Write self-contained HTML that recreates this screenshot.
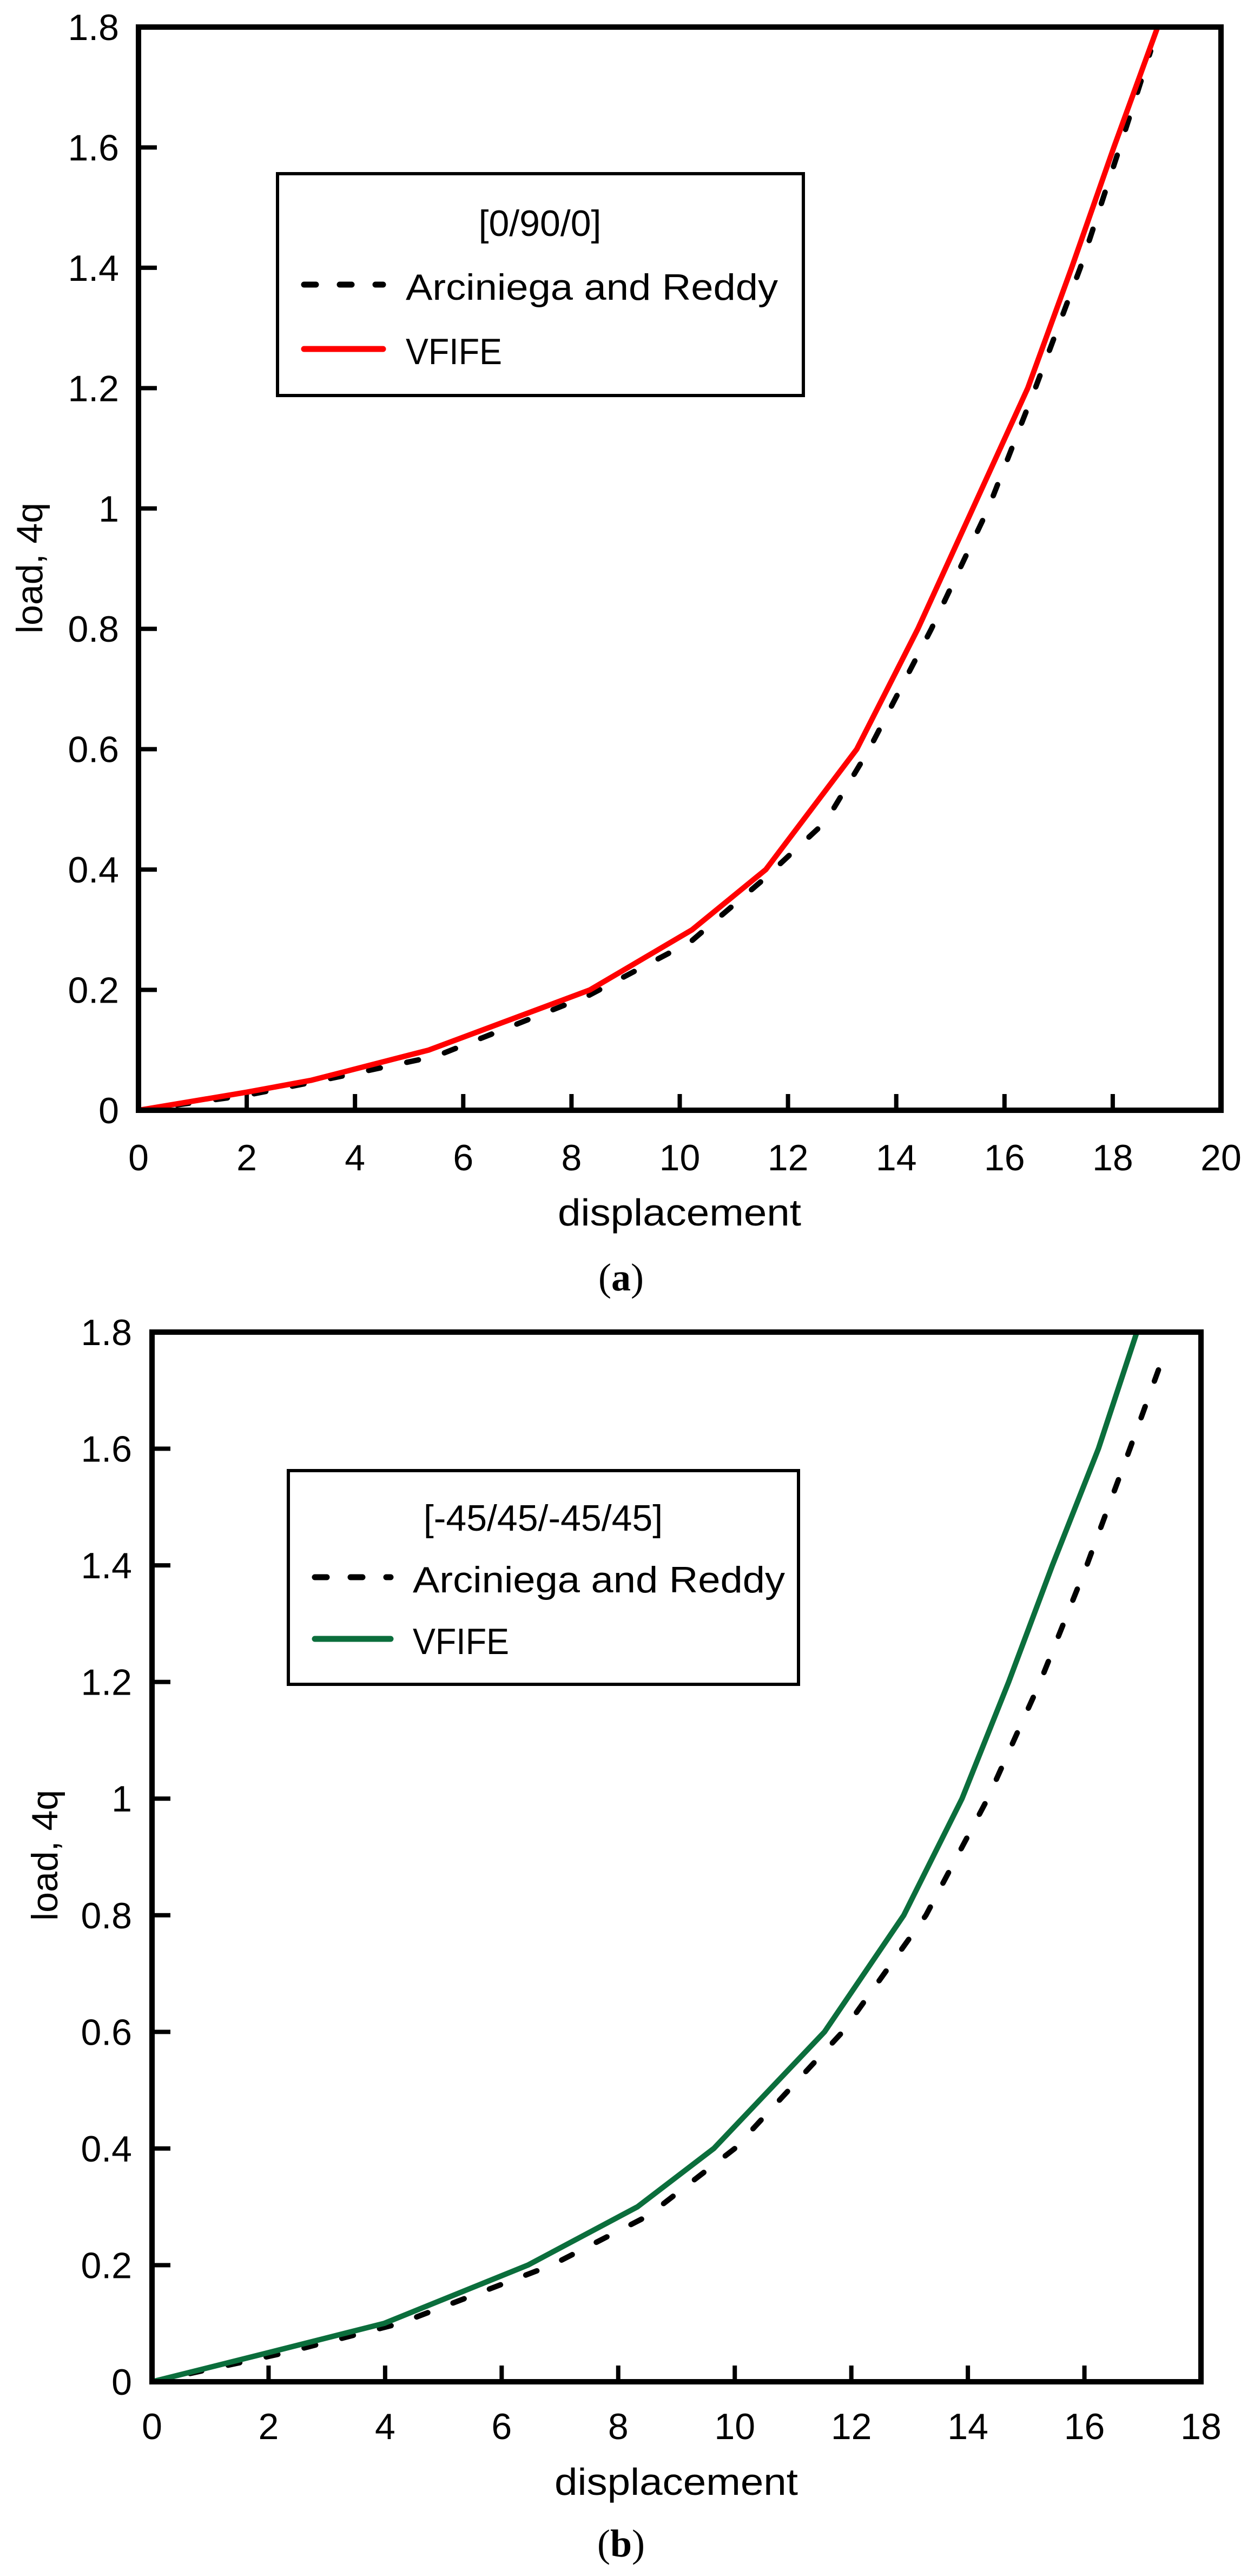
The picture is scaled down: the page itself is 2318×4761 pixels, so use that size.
<!DOCTYPE html>
<html><head><meta charset="utf-8">
<style>
html,body{margin:0;padding:0;background:#fff;}
svg{display:block;}
text{font-family:"Liberation Sans",sans-serif;fill:#000;}
</style></head>
<body>
<svg id="fig" width="2318" height="4761" viewBox="0 0 2318 4761" xmlns="http://www.w3.org/2000/svg"></svg>
<script>
// ---- Panel (a) data ----
const aArcX = [0, 2, 3.4, 5.5, 8.3, 10.2, 11.5, 12.7, 13.5, 14.65, 15.7, 16.57, 17.4, 18.13, 18.7];
const aArcY = [0, 0.025, 0.05, 0.09, 0.19, 0.28, 0.38, 0.48, 0.6, 0.8, 1.0, 1.2, 1.4, 1.6, 1.76];
const aVfX = [0, 2, 3.2, 5.36, 8.34, 10.23, 11.59, 13.27, 14.4, 16.43, 17.24, 18.02, 18.83];
const aVfY = [0, 0.03, 0.05, 0.1, 0.2, 0.3, 0.4, 0.6, 0.8, 1.2, 1.4, 1.6, 1.8];
const aXTicks = [0, 2, 4, 6, 8, 10, 12, 14, 16, 18, 20];
const yTicks = [0, 0.2, 0.4, 0.6, 0.8, 1, 1.2, 1.4, 1.6, 1.8];
// ---- Panel (b) data ----
const bArcX = [0, 2.3, 4.25, 6.86, 8.5, 10.0, 11.85, 13.28, 14.34, 15.24, 16.04, 16.78, 17.36];
const bArcY = [0, 0.05, 0.1, 0.2, 0.284, 0.4, 0.6, 0.8, 1.0, 1.2, 1.4, 1.6, 1.76];
const bVfX = [0, 2, 3.98, 6.45, 8.33, 9.64, 11.54, 12.9, 13.9, 14.7, 15.45, 16.24, 16.9];
const bVfY = [0, 0.05, 0.1, 0.2, 0.3, 0.4, 0.6, 0.8, 1.0, 1.2, 1.4, 1.6, 1.8];
const bXTicks = [0, 2, 4, 6, 8, 10, 12, 14, 16, 18];

const NS = "http://www.w3.org/2000/svg";
const svg = document.getElementById('fig');
function mk(tag, attrs, parent){
  const e = document.createElementNS(NS, tag);
  for (const k in attrs) e.setAttribute(k, attrs[k]);
  (parent||svg).appendChild(e);
  return e;
}
function txt(str, attrs, parent){ const t = mk('text', attrs, parent); t.textContent = str; return t; }

function panel(cfg){
  const g = mk('g', {});
  
  
  const xs = v => cfg.L + (v - 0) / cfg.xmax * (cfg.R - cfg.L);
  const ys = v => cfg.B - v / 1.8 * (cfg.B - cfg.T);
  cfg.xTicks.forEach(v => {
    const t = mk('line', {x1: xs(v), x2: xs(v), y1: cfg.B, y2: cfg.B - 30, stroke: '#000', 'stroke-width': 8}, g);
    
    
    const l = txt(String(v), {x: xs(v), y: cfg.xLabY, 'font-size': 68, 'text-anchor': 'middle'}, g);
    
    
  });
  yTicks.forEach(v => {
    const t = mk('line', {x1: cfg.L, x2: cfg.L + 34, y1: ys(v), y2: ys(v), stroke: '#000', 'stroke-width': 8}, g);
    
    
    const l = txt(String(v), {x: cfg.yLabX, y: ys(v) + 24, 'font-size': 68, 'text-anchor': 'end'}, g);
    
    
  });
  const pts = (X, Y) => X.map((x, i) => xs(x).toFixed(1) + ',' + ys(Y[i]).toFixed(1)).join(' ');
  const arc = mk('polyline', {points: pts(cfg.arcX, cfg.arcY), fill: 'none', stroke: '#000', 'stroke-width': 10, 'stroke-dasharray': '22 50', 'stroke-linecap': 'round'}, g);
  
  
  const vf = mk('polyline', {points: pts(cfg.vfX, cfg.vfY), fill: 'none', stroke: cfg.color, 'stroke-width': 10, 'stroke-linejoin': 'round'}, g);
  
  
  const fr = mk('rect', {x: cfg.L, y: cfg.T, width: cfg.R - cfg.L, height: cfg.B - cfg.T, fill: 'none', stroke: '#000', 'stroke-width': 10}, g);
  
  
  const xt = txt('displacement', {x: cfg.xTitleX, y: cfg.xTitleY, 'font-size': 70, 'text-anchor': 'middle', textLength: 450, lengthAdjust: 'spacingAndGlyphs'}, g);
  
  
  const yt = txt('load, 4q', {x: 0, y: 0, 'font-size': 68, 'text-anchor': 'middle', transform: 'translate(' + cfg.yTitleX + ',' + cfg.yTitleY + ') rotate(-90)'}, g);
  
  
  const lg = mk('g', {}, g);
  
  
  const lb = cfg.leg;
  mk('rect', {x: lb.x, y: lb.y, width: lb.w, height: lb.h, fill: '#fff', stroke: '#000', 'stroke-width': 6}, lg);
  const tt = txt(cfg.title, {x: lb.tx, y: lb.ty, 'font-size': 68, 'text-anchor': 'middle'}, lg);
  
  
  const d1 = mk('line', {x1: lb.lx1, x2: lb.lx2, y1: lb.y1, y2: lb.y1, stroke: '#000', 'stroke-width': 11, 'stroke-dasharray': '22 44', 'stroke-linecap': 'round'}, lg);
  
  
  const e1 = txt('Arciniega and Reddy', {x: lb.textX, y: lb.y1 + 28, 'font-size': 68, textLength: 688, lengthAdjust: 'spacingAndGlyphs'}, lg);
  
  
  const d2 = mk('line', {x1: lb.lx1, x2: lb.lx2, y1: lb.y2, y2: lb.y2, stroke: cfg.color, 'stroke-width': 11, 'stroke-linecap': 'round'}, lg);
  
  
  const e2 = txt('VFIFE', {x: lb.textX, y: lb.y2 + 28, 'font-size': 68, textLength: 178, lengthAdjust: 'spacingAndGlyphs'}, lg);
  
  
  const cap = mk('text', {x: cfg.capX, y: cfg.capY, 'font-size': 72, 'text-anchor': 'middle', style: 'font-family:"Liberation Serif",serif'}, g);
  
  
  cap.appendChild(document.createTextNode('('));
  const bt = mk('tspan', {'font-weight': 'bold'}, cap); bt.textContent = cfg.cap;
  cap.appendChild(document.createTextNode(')'));
}

panel({name: 'chart-a', L: 256, R: 2257, T: 50, B: 2052, xmax: 20, xTicks: aXTicks,
  xLabY: 2163, yLabX: 220, color: '#ff0000', arcX: aArcX, arcY: aArcY, vfX: aVfX, vfY: aVfY,
  xTitleX: 1256, xTitleY: 2265, yTitleX: 78, yTitleY: 1050, title: '[0/90/0]',
  leg: {x: 513, y: 321, w: 972, h: 410, tx: 998, ty: 436, lx1: 562, lx2: 708, y1: 526, y2: 645, textX: 750},
  capX: 1148, capY: 2385, cap: 'a'});

panel({name: 'chart-b', L: 281, R: 2220, T: 2462, B: 4402, xmax: 18, xTicks: bXTicks,
  xLabY: 4508, yLabX: 244, color: '#0b6e3c', arcX: bArcX, arcY: bArcY, vfX: bVfX, vfY: bVfY,
  xTitleX: 1250, xTitleY: 4611, yTitleX: 106, yTitleY: 3429, title: '[-45/45/-45/45]',
  leg: {x: 533, y: 2718, w: 943, h: 395, tx: 1004, ty: 2829, lx1: 582, lx2: 722, y1: 2915, y2: 3029, textX: 763},
  capX: 1148, capY: 4725, cap: 'b'});
</script>
</body></html>
